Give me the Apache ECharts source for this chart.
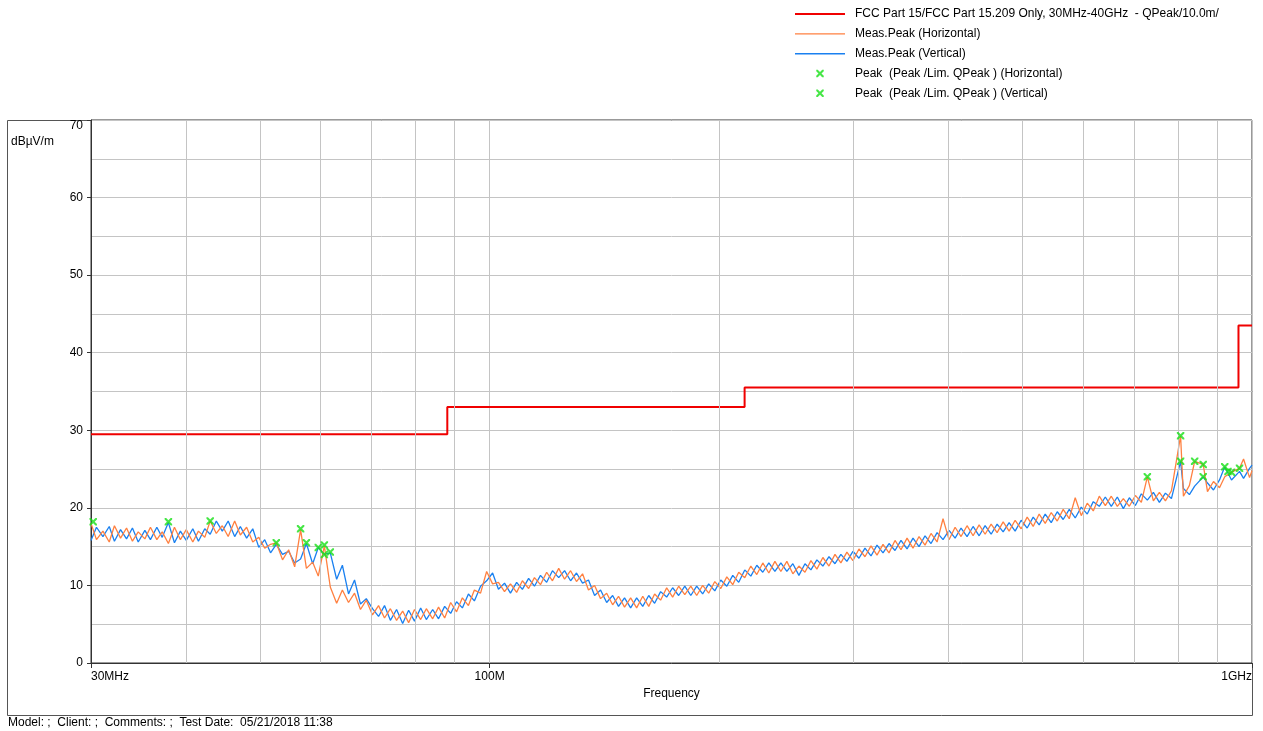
<!DOCTYPE html>
<html>
<head>
<meta charset="utf-8">
<title>Radiated emission 30MHz-1GHz</title>
<script src="https://cdn.jsdelivr.net/npm/echarts@6.0.0/dist/echarts.min.js"></script>
<style>
  html, body { margin: 0; padding: 0; background: #fff; }
  #main { width: 1263px; height: 731px; }
</style>
</head>
<body>
<div id="main"></div>
<script>
// sweep frequencies (MHz), shared by both polarisations
var freqMHz = [
  30.0, 30.5, 31.1, 31.7, 32.2, 32.8, 33.4, 34.0, 34.6, 35.3,
  35.9, 36.6, 37.2, 37.9, 38.6, 39.3, 40.0, 40.8, 41.5, 42.3,
  43.0, 43.8, 44.6, 45.4, 46.3, 47.1, 48.0, 48.9, 49.8, 50.7,
  51.6, 52.5, 53.5, 54.5, 55.5, 56.5, 57.5, 58.6, 59.6, 60.7,
  61.8, 63.0, 64.1, 65.3, 66.5, 67.7, 68.9, 70.2, 71.5, 72.8,
  74.1, 75.5, 76.9, 78.3, 79.7, 81.2, 82.6, 84.2, 85.7, 87.3,
  88.9, 90.5, 92.1, 93.8, 95.5, 97.3, 99.1, 100.9, 102.7, 104.6,
  106.5, 108.5, 110.4, 112.5, 114.5, 116.6, 118.8, 120.9, 123.2, 125.4,
  127.7, 130.0, 132.4, 134.8, 137.3, 139.8, 142.4, 145.0, 147.6, 150.3,
  153.1, 155.9, 158.8, 161.7, 164.6, 167.6, 170.7, 173.8, 177.0, 180.3,
  183.6, 186.9, 190.3, 193.8, 197.4, 201.0, 204.7, 208.4, 212.2, 216.1,
  220.1, 224.1, 228.2, 232.4, 236.7, 241.0, 245.4, 249.9, 254.5, 259.2,
  263.9, 268.7, 273.6, 278.7, 283.8, 288.9, 294.2, 299.6, 305.1, 310.7,
  316.4, 322.2, 328.1, 334.1, 340.2, 346.4, 352.8, 359.2, 365.8, 372.5,
  379.3, 386.3, 393.3, 400.5, 407.9, 415.3, 422.9, 430.7, 438.6, 446.6,
  454.8, 463.1, 471.6, 480.2, 489.0, 498.0, 507.1, 516.4, 525.8, 535.5,
  545.3, 555.3, 565.4, 575.8, 586.3, 597.1, 608.0, 619.2, 630.5, 642.1,
  653.8, 665.8, 678.0, 690.4, 703.1, 715.9, 729.0, 742.4, 756.0, 769.9,
  784.0, 806.0, 812.9, 827.8, 841.0, 863.0, 874.2, 890.2, 906.5, 921.0,
  940.0, 963.0, 974.8, 992.6, 1000
];

// Meas.Peak (Horizontal), dBuV/m
var horizPeak = [
  18.0, 15.9, 17.0, 15.6, 17.7, 16.1, 17.4, 15.7, 16.9, 16.0,
  17.5, 15.9, 16.9, 15.4, 17.5, 15.9, 17.2, 15.6, 17.0, 16.2,
  18.3, 16.7, 17.7, 16.3, 18.3, 16.5, 17.5, 15.6, 16.2, 14.8,
  15.3, 15.5, 13.3, 14.6, 12.4, 17.2, 12.2, 13.0, 11.2, 15.1,
  9.8, 7.7, 9.4, 7.8, 9.0, 6.9, 8.1, 6.2, 7.4, 5.8,
  7.0, 5.5, 6.7, 5.2, 6.9, 5.6, 7.0, 5.7, 7.2, 5.8,
  7.8, 6.6, 8.4, 7.4, 9.4, 9.0, 11.8, 10.2, 10.4, 9.2,
  10.2, 9.1, 10.6, 9.6, 11.0, 10.1, 11.7, 10.6, 12.2, 10.8,
  11.9, 10.5, 11.5, 9.4, 10.0, 8.3, 9.0, 7.5, 8.6, 7.2,
  8.4, 7.1, 8.6, 7.3, 8.9, 8.1, 9.7, 8.5, 9.9, 8.8,
  9.9, 8.7, 10.0, 9.0, 10.5, 9.6, 11.1, 10.1, 11.7, 11.0,
  12.5, 11.4, 12.9, 11.6, 13.1, 11.8, 13.1, 11.5, 12.5, 11.7,
  13.2, 12.1, 13.6, 12.5, 14.0, 12.9, 14.3, 13.2, 14.7, 13.7,
  15.1, 13.9, 15.3, 14.2, 15.8, 14.6, 16.1, 14.8, 16.3, 15.2,
  16.7, 15.6, 18.6, 15.9, 17.5, 16.3, 17.7, 16.4, 17.8, 16.6,
  17.9, 16.8, 18.2, 17.0, 18.4, 17.3, 18.8, 17.6, 19.2, 18.0,
  19.4, 18.3, 19.8, 18.6, 21.3, 19.0, 20.6, 19.6, 21.5, 20.3,
  21.5, 20.2, 21.2, 20.2, 21.6, 20.7, 24.0, 20.9, 22.0, 20.9,
  22.2, 29.3, 21.5, 22.9, 26.0, 25.6, 22.1, 23.4, 22.6, 24.0,
  24.6, 25.1, 26.3, 23.9, 24.8
];

// Meas.Peak (Vertical), dBuV/m
var vertPeak = [
  15.8, 17.5, 16.3, 17.6, 15.7, 17.2, 16.0, 17.4, 15.6, 17.1,
  15.9, 17.5, 16.2, 18.1, 15.5, 17.0, 15.8, 17.3, 15.7, 17.3,
  16.6, 18.3, 17.0, 18.3, 16.3, 17.6, 16.1, 17.3, 14.9, 15.9,
  14.2, 15.3, 14.0, 14.4, 12.9, 13.4, 15.4, 12.8, 14.9, 14.0,
  14.2, 10.8, 12.6, 8.9, 10.7, 7.6, 8.3, 7.0, 6.0, 7.4,
  5.5, 6.9, 5.1, 6.8, 5.4, 7.1, 5.6, 6.9, 5.7, 7.3,
  6.4, 7.9, 7.1, 8.9, 8.0, 9.9, 10.6, 11.6, 9.5, 10.3,
  9.0, 10.4, 9.5, 10.9, 9.9, 11.3, 10.4, 11.9, 11.0, 11.9,
  10.6, 11.6, 10.3, 10.7, 8.7, 9.4, 7.8, 8.7, 7.3, 8.4,
  7.1, 8.4, 7.3, 8.7, 7.7, 9.2, 8.5, 9.7, 8.7, 9.9,
  8.7, 9.9, 8.9, 10.2, 9.3, 10.7, 9.9, 11.3, 10.4, 12.0,
  11.2, 12.6, 11.7, 12.9, 11.8, 12.9, 11.8, 12.8, 11.3, 12.8,
  12.0, 13.3, 12.5, 13.7, 12.8, 14.0, 13.1, 14.4, 13.5, 14.8,
  13.8, 15.2, 14.2, 15.4, 14.5, 15.8, 14.7, 16.1, 15.0, 16.4,
  15.4, 16.8, 15.9, 17.1, 16.1, 17.4, 16.3, 17.6, 16.4, 17.7,
  16.6, 17.9, 16.9, 18.1, 17.0, 18.4, 17.4, 18.8, 17.8, 19.2,
  18.1, 19.5, 18.5, 19.8, 18.7, 20.1, 19.2, 20.8, 20.2, 21.4,
  20.2, 21.4, 19.9, 21.3, 20.3, 21.8, 21.0, 22.0, 20.7, 21.9,
  21.2, 26.0, 22.5, 21.7, 22.8, 24.0, 23.2, 22.3, 23.6, 25.3,
  23.6, 24.7, 23.8, 25.1, 25.5
];

// FCC 15.209 QPeak limit at 10 m (step line)
var limitFreq = [30, 88, 88, 216, 216, 960, 960, 1000];
var limitVal = [29.5, 29.5, 33.0, 33.0, 35.5, 35.5, 43.5, 43.5];

// peak markers
var peakHFreq = [30.2, 43.0, 52.5, 56.5, 60.7, 729.0, 806.0, 841.0, 863.0, 963.0];
var peakHVal = [18.2, 18.3, 15.5, 17.3, 15.2, 24.0, 29.3, 26.0, 25.6, 25.1];
var peakVFreq = [37.9, 57.5, 59.6, 60.7, 61.8, 806.0, 863.0, 921.0, 930.0, 940.0];
var peakVVal = [18.2, 15.5, 14.9, 14.0, 14.3, 26.0, 24.0, 25.3, 24.7, 24.6];

// x axis labels and minor grid
var xTickValues = [30, 100, 1000];
var xTickLabels = ['30MHz', '100M', '1GHz'];
var gridFreqs = [40, 50, 60, 70, 80, 90, 200, 300, 400, 500, 600, 700, 800, 900];

var nameLimit = 'FCC Part 15/FCC Part 15.209 Only, 30MHz-40GHz  - QPeak/10.0m/';
var nameH = 'Meas.Peak (Horizontal)';
var nameV = 'Meas.Peak (Vertical)';
var namePkH = 'Peak  (Peak /Lim. QPeak ) (Horizontal)';
var namePkV = 'Peak  (Peak /Lim. QPeak ) (Vertical)';

function pairs(xs, ys) {
  return xs.map(function (x, i) { return [x, ys[i]]; });
}

var font = 'Liberation Sans, Arial, sans-serif';
var gridColor = '#c4c4c4';
// x mark, padded so the legend icon stays small
var crossPath = 'path://M-3,-3 M13,13 M0,0 L2,0 L5,3 L8,0 L10,0 L10,2 L7,5 L10,8 L10,10 L8,10 L5,7 L2,10 L0,10 L0,8 L3,5 L0,2 Z';
var thickLineIcon = 'path://M0,0 M50,12 M0,5 L50,5 L50,7 L0,7 Z';
var thinLineIcon = 'path://M0,0 M50,12 M0,5.4 L50,5.4 L50,6.8 L0,6.8 Z';

var chartDom = document.getElementById('main');
var myChart = echarts.init(chartDom);

var option = {
  animation: false,
  textStyle: { fontFamily: font },
  grid: {
    left: 91,
    right: 11,
    top: 120,
    bottom: 68,
    show: true,
    borderColor: '#333',
    borderWidth: 1
  },
  legend: {
    orient: 'vertical',
    left: 790,
    top: 3,
    itemWidth: 50,
    itemHeight: 12,
    itemGap: 7.8,
    selectedMode: false,
    textStyle: { fontSize: 12, color: '#000', fontFamily: font, padding: [0, 0, 0, 5] },
    data: [
      { name: nameLimit, icon: thickLineIcon },
      { name: nameH, icon: thinLineIcon },
      { name: nameV, icon: thinLineIcon },
      { name: namePkH },
      { name: namePkV }
    ]
  },
  xAxis: {
    type: 'log',
    logBase: 10,
    min: 30,
    max: 1000,
    name: 'Frequency',
    nameLocation: 'middle',
    nameGap: 24,
    nameTextStyle: { color: '#000', fontSize: 12 },
    axisLine: { lineStyle: { color: '#333' } },
    axisTick: { show: true, length: 5, lineStyle: { color: '#333' } },
    axisLabel: {
      color: '#000',
      fontSize: 12,
      margin: 8,
      alignMinLabel: 'left',
      alignMaxLabel: 'right',
      formatter: function (v) {
        var i = xTickValues.indexOf(Math.round(v));
        return i >= 0 ? xTickLabels[i] : '';
      }
    },
    splitLine: { show: true, lineStyle: { color: gridColor } }
  },
  yAxis: {
    type: 'value',
    min: 0,
    max: 70,
    interval: 10,
    axisLine: { show: true, lineStyle: { color: '#333' } },
    axisTick: { show: true, length: 4, lineStyle: { color: '#333' } },
    axisLabel: { color: '#000', fontSize: 12, margin: 8, verticalAlignMaxLabel: 'top' },
    splitLine: { show: true, lineStyle: { color: gridColor } },
    minorTick: { show: false, splitNumber: 2 },
    minorSplitLine: { show: true, lineStyle: { color: gridColor } }
  },
  series: [
    {
      name: 'gridlines',
      type: 'line',
      data: [],
      silent: true,
      z: 1,
      markLine: {
        silent: true,
        symbol: 'none',
        label: { show: false },
        lineStyle: { color: gridColor, width: 1, type: 'solid' },
        data: gridFreqs.map(function (f) { return { xAxis: f }; })
      }
    },
    {
      name: nameV,
      type: 'line',
      data: pairs(freqMHz, vertPeak),
      symbol: 'none',
      z: 2,
      lineStyle: { color: '#1a80f0', width: 1.3 },
      itemStyle: { color: '#1a80f0' }
    },
    {
      name: nameH,
      type: 'line',
      data: pairs(freqMHz, horizPeak),
      symbol: 'none',
      z: 3,
      lineStyle: { color: '#ff8040', width: 1.3 },
      itemStyle: { color: '#ff8040' }
    },
    {
      name: nameLimit,
      type: 'line',
      data: pairs(limitFreq, limitVal),
      symbol: 'none',
      z: 4,
      lineStyle: { color: '#f00000', width: 2 },
      itemStyle: { color: '#f00000' }
    },
    {
      name: namePkH,
      type: 'scatter',
      data: pairs(peakHFreq, peakHVal),
      symbol: crossPath,
      symbolSize: 12,
      symbolKeepAspect: true,
      z: 5,
      itemStyle: { color: '#18e018' }
    },
    {
      name: namePkV,
      type: 'scatter',
      data: pairs(peakVFreq, peakVVal),
      symbol: crossPath,
      symbolSize: 12,
      symbolKeepAspect: true,
      z: 5,
      itemStyle: { color: '#18e018' }
    }
  ],
  graphic: [
    {
      type: 'rect',
      silent: true,
      shape: { x: 7.5, y: 120.5, width: 1245, height: 595 },
      style: { fill: 'none', stroke: '#555', lineWidth: 1 }
    },
    {
      type: 'text',
      left: 11,
      top: 136,
      style: { text: 'dBµV/m', fill: '#000', font: '12px ' + font }
    },
    {
      type: 'text',
      left: 8,
      top: 717,
      style: { text: 'Model: ;  Client: ;  Comments: ;  Test Date:  05/21/2018 11:38', fill: '#000', font: '12px ' + font }
    }
  ]
};

myChart.setOption(option);
</script>
</body>
</html>
